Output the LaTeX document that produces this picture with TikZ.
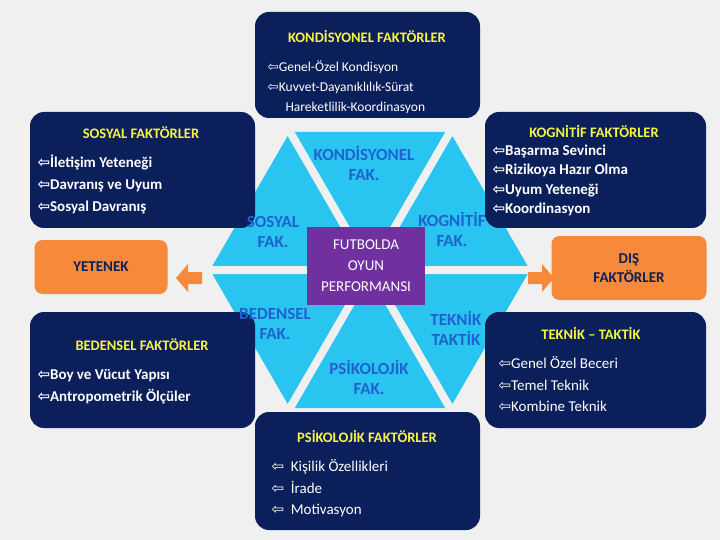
\documentclass[tikz,border=0pt]{standalone}
\usepackage{fontspec}
\setmainfont{Carlito}
\newfontfamily\djv{DejaVu Sans}
\definecolor{bg}{HTML}{F0F0F0}
\definecolor{navy}{HTML}{0B1F5B}
\definecolor{cyanf}{HTML}{29C5F0}
\definecolor{labb}{HTML}{1E62D0}
\definecolor{ttl}{HTML}{F5F542}
\definecolor{org}{HTML}{F7893A}
\definecolor{purp}{HTML}{7030A0}
\newcommand{\ar}{{\djv\char"21E6}}
\begin{document}
\begin{tikzpicture}[x=1pt,y=-1pt,
  box/.style={fill=navy,rounded corners=14pt},
  ttlt/.style={text=ttl,font=\bfseries\fontsize{14.5}{17}\selectfont},
  itm/.style={text=white,align=left},
  hexl/.style={text=labb,font=\bfseries\fontsize{17}{20}\selectfont,align=center},
  orbox/.style={fill=org,rounded corners=8pt,text=navy,font=\bfseries\fontsize{15}{19}\selectfont,align=center}]
\fill[bg] (0,0) rectangle (720,540);
\useasboundingbox (0,0) rectangle (720,540);
% hexagon
\fill[cyanf] (210,270) -- (290,132) -- (450,132) -- (530,270) -- (450,408) -- (290,408) -- cycle;
\draw[bg,line width=8pt] (290,132) -- (450,408) (450,132) -- (290,408) (200,270) -- (540,270);
% boxes
\fill[box] (255,12) rectangle (480,118);
\fill[box] (30,112) rectangle (255,228);
\fill[box] (30,312) rectangle (255,428);
\fill[box] (485,112) rectangle (706,228);
\fill[box] (485,312) rectangle (706,428);
\fill[box] (255,412) rectangle (480,530);
\node[ttlt] (tt) at (367,36) {KONDİSYONEL FAKTÖRLER};
\node[itm,font=\fontsize{13.5}{20}\selectfont,anchor=north west] (ti) at (264,57) {\ar Genel-Özel Kondisyon\\\ar Kuvvet-Dayanıklılık-Sürat\\\hspace*{18pt}Hareketlilik-Koordinasyon};
\node[ttlt] (st) at (141,133) {SOSYAL FAKTÖRLER};
\node[itm,font=\bfseries\fontsize{15}{22}\selectfont,anchor=north west] (si) at (34,151) {\ar İletişim Yeteneği\\\ar Davranış ve Uyum\\\ar Sosyal Davranış};
\node[ttlt] (bt) at (142,345) {BEDENSEL FAKTÖRLER};
\node[itm,font=\bfseries\fontsize{15}{22}\selectfont,anchor=north west] (bi) at (34,366) {\ar Boy ve Vücut Yapısı\\\ar Antropometrik Ölçüler};
\node[ttlt] (kt) at (594,131) {KOGNİTİF FAKTÖRLER};
\node[itm,font=\bfseries\fontsize{15}{19.5}\selectfont,anchor=north west] (ki) at (489,141) {\ar Başarma Sevinci\\\ar Rizikoya Hazır Olma\\\ar Uyum Yeteneği\\\ar Koordinasyon};
\node[ttlt] (tk) at (591,333) {TEKNİK – TAKTİK};
\node[itm,font=\fontsize{15}{21.5}\selectfont,anchor=north west] (tki) at (495,353) {\ar Genel Özel Beceri\\\ar Temel Teknik\\\ar Kombine Teknik};
\node[ttlt] (pt) at (367,436) {PSİKOLOJİK FAKTÖRLER};
\node[itm,font=\fontsize{15}{21.5}\selectfont,anchor=north west] (pi) at (268,456) {\ar\ \ Kişilik Özellikleri\\\ar\ \ İrade\\\ar\ \ Motivasyon};
% hex labels
\node[hexl] (h1) at (364,163) {KONDİSYONEL\\FAK.};
\node[hexl] (h2) at (273,232) {SOSYAL\\FAK.};
\node[hexl] (h3) at (452,229) {KOGNİTİF\\FAK.};
\node[hexl] (h4) at (275,324) {BEDENSEL\\FAK.};
\node[hexl] (h5) at (456,328) {TEKNİK\\TAKTİK};
\node[hexl] (h6) at (369,377) {PSİKOLOJİK\\FAK.};
\node[fill=purp,text=white,font=\fontsize{15}{21}\selectfont,align=center,minimum width=118pt,minimum height=77pt] (ctr) at (366,266) {FUTBOLDA\\OYUN\\PERFORMANSI};
% orange
\node[orbox,minimum width=133pt,minimum height=54pt] (yet) at (101,267) {YETENEK};
\node[orbox,minimum width=155pt,minimum height=64pt] (dis) at (629,268) {DIŞ\\FAKTÖRLER};
\coordinate (l1) at (202,266); \coordinate (r1) at (528,266);
\fill[org] ([yshift=-6pt]l1) -- ++(-14,0) -- ++(0,-8) -- ++(-12,14) -- ++(12,14) -- ++(0,-8) -- ++(14,0) -- cycle;
\fill[org] ([yshift=-6pt]r1) -- ++(14,0) -- ++(0,-8) -- ++(12,14) -- ++(-12,14) -- ++(0,-8) -- ++(-14,0) -- cycle;
\end{tikzpicture}
\end{document}
